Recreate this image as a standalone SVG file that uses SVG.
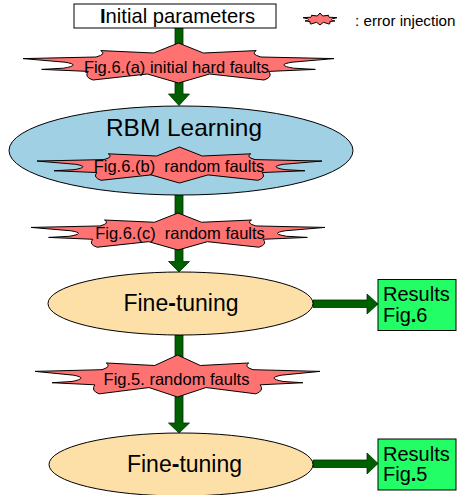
<svg xmlns="http://www.w3.org/2000/svg" xmlns:xlink="http://www.w3.org/1999/xlink" width="460" height="495" viewBox="0 0 460 495">
<style>
text{font-family:"Liberation Sans",Arial,sans-serif;fill:#000}
.star{fill:#ff7272;stroke:#000;stroke-width:1;stroke-linejoin:miter}
.arrow{fill:#006000;stroke:#003000;stroke-width:0.8}
.ell{stroke:#000;stroke-width:1}
.res{fill:#22ff66;stroke:#000;stroke-width:1}
</style>
<defs>
<path id="starShape" vector-effect="non-scaling-stroke" d="M0,-1 L0.16,-0.5 L0.5,-0.62 Q0.46,-0.45 0.53,-0.3 L1,-0.22 L0.73,-0.04 Q0.62,0.1 0.74,0.26 L0.88,0.32 L0.58,0.42 Q0.61,0.7 0.55,0.85 L0.2,0.55 L0,1 L-0.2,0.55 L-0.55,0.85 Q-0.61,0.7 -0.58,0.42 L-0.88,0.32 L-0.74,0.26 Q-0.62,0.1 -0.73,-0.04 L-1,-0.22 L-0.53,-0.3 Q-0.46,-0.45 -0.5,-0.62 L-0.16,-0.5 Z"/>
</defs>
<rect width="460" height="495" fill="#fff"/>
<g id="connectors">
<path class="arrow" d="M175,28 L183,28 L183,94 L189.5,94 L179,105.5 L168.5,94 L175,94 Z"/>
<path class="arrow" d="M175,195 L183,195 L183,261.5 L189.5,261.5 L179,272 L168.5,261.5 L175,261.5 Z"/>
<path class="arrow" d="M175,335 L183,335 L183,423 L189.5,423 L179,433 L168.5,423 L175,423 Z"/>
<path class="arrow" d="M313,300 L367,300 L367,294 L378,304 L367,314 L367,307.5 L313,307.5 Z"/>
<path class="arrow" d="M313,460 L367,460 L367,453 L378,463.5 L367,474 L367,467.5 L313,467.5 Z"/>
</g>
<g id="init">
<rect x="74" y="4" width="202" height="24" fill="#fff" stroke="#000" stroke-width="1"/>
<text x="100" y="23" font-size="21" textLength="155" lengthAdjust="spacingAndGlyphs"><tspan font-weight="bold">I</tspan>nitial parameters</text>
</g>
<g id="legend">
<use xlink:href="#starShape" class="star" transform="translate(320,19) scale(17,6)"/>
<text x="355" y="26" font-size="15.2">: error injection</text>
</g>
<g id="faultA">
<use xlink:href="#starShape" class="star" transform="translate(178.5,63) scale(155.5,20)"/>
<text x="176.5" y="72.5" font-size="16.5" text-anchor="middle">Fig.6.(a) initial hard faults</text>
</g>
<g id="rbm">
<ellipse class="ell" cx="181" cy="150.5" rx="172" ry="44.5" fill="#9fd0e4"/>
<text x="106" y="136" font-size="24" textLength="156" lengthAdjust="spacingAndGlyphs">RBM Learning</text>
</g>
<g id="faultB">
<use xlink:href="#starShape" class="star" transform="translate(179.5,165) scale(142.5,18)"/>
<text x="179" y="172" font-size="16.5" text-anchor="middle" xml:space="preserve">Fig.6.(b)  random faults</text>
</g>
<g id="faultC">
<use xlink:href="#starShape" class="star" transform="translate(178,231.5) scale(147,18.5)"/>
<text x="180" y="239" font-size="16.5" text-anchor="middle" xml:space="preserve">Fig.6.(c)  random faults</text>
</g>
<g id="fine1">
<ellipse class="ell" cx="180.5" cy="303.5" rx="132.5" ry="31.5" fill="#fde0a8"/>
<text x="181" y="311" font-size="23" text-anchor="middle">Fine<tspan font-weight="bold">-</tspan>tuning</text>
</g>
<g id="results6">
<rect class="res" x="378" y="279.5" width="78" height="51"/>
<text x="383" y="301" font-size="20">Results</text>
<text x="383" y="321.5" font-size="20">Fig<tspan font-weight="bold">.</tspan>6</text>
</g>
<g id="fault5">
<use xlink:href="#starShape" class="star" transform="translate(177.5,376) scale(142.5,21)"/>
<text x="176.5" y="385" font-size="16.5" text-anchor="middle">Fig.5. random faults</text>
</g>
<g id="fine2">
<ellipse class="ell" cx="181" cy="464.5" rx="132" ry="31.5" fill="#fde0a8"/>
<text x="184.5" y="472" font-size="23" text-anchor="middle">Fine<tspan font-weight="bold">-</tspan>tuning</text>
</g>
<g id="results5">
<rect class="res" x="378" y="439" width="78" height="51"/>
<text x="383" y="461" font-size="20">Results</text>
<text x="383" y="481" font-size="20">Fig<tspan font-weight="bold">.</tspan>5</text>
</g>
</svg>
